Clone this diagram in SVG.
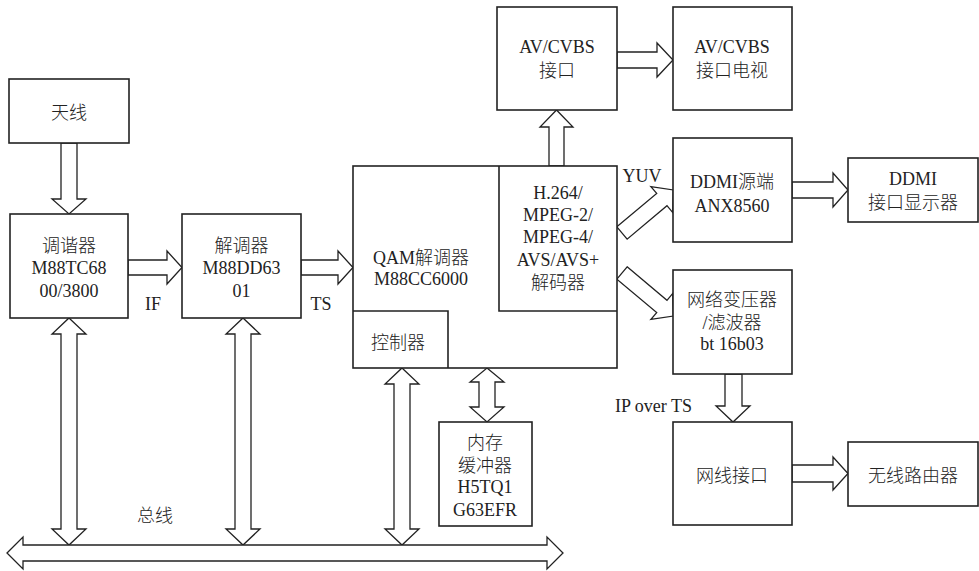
<svg xmlns="http://www.w3.org/2000/svg" width="979" height="571" viewBox="0 0 979 571">
<style>
.box{fill:#fff;stroke:#222;stroke-width:1.6}
.ln{fill:none;stroke:#222;stroke-width:1.6}
.arr{fill:#fff;stroke:#222;stroke-width:1.3;stroke-linejoin:miter}
text{font-family:"Liberation Serif","Noto Sans CJK SC",serif;font-size:18px;font-weight:300;fill:#222;text-anchor:middle}
.lab{text-anchor:start}
</style>
<rect width="979" height="571" fill="#fff"/>
<g id="connectors">
<polygon class="arr" points="61,143 77,143 77,199 86,199 69,214 52,199 61,199"/>
<polygon class="arr" points="128,260 167,260 167,251 182,267.5 167,284 167,275 128,275"/>
<polygon class="arr" points="301,260 338,260 338,251 353,267.5 338,284 338,275 301,275"/>
<polygon class="arr" points="549,166 549,127 540,127 556.5,110 573,127 564,127 564,166"/>
<polygon class="arr" points="617,52 657,52 657,43 673,60 657,77 657,68 617,68"/>
<polygon class="arr" transform="translate(622,233) rotate(-40)" points="0,-8 52,-8 52,-17 67,0 52,17 52,8 0,8"/>
<polygon class="arr" transform="translate(622,273) rotate(40)" points="0,-8 52,-8 52,-17 67,0 52,17 52,8 0,8"/>
<polygon class="arr" points="792,182 833,182 833,173 848,190 833,207 833,198 792,198"/>
<polygon class="arr" points="725,374 742,374 742,406 750,406 733,422 716,406 725,406"/>
<polygon class="arr" points="792,465 833,465 833,457 848,473.5 833,490 833,482 792,482"/>
<polygon class="arr" points="69,318 86,334 77,334 77,529 86,529 69,545 52,529 61,529 61,334 52,334"/>
<polygon class="arr" points="243,318 260,334 251,334 251,529 260,529 243,545 226,529 235,529 235,334 226,334"/>
<polygon class="arr" points="402,368 419,384 410,384 410,529 419,529 402,545 385,529 394,529 394,384 385,384"/>
<polygon class="arr" points="487,368 504,382 495,382 495,407 504,407 487,422 470,407 479,407 479,382 470,382"/>
<polygon class="arr" points="7,553 23,537 23,545 547,545 547,537 563,553 547,569 547,561 23,561 23,569"/>
<text x="155" y="522">总线</text>
<text x="153" y="310">IF</text>
<text x="321" y="310">TS</text>
<text x="642" y="182">YUV</text>
<text class="lab" x="615" y="412">IP over TS</text>
</g>
<g id="antenna">
<rect class="box" x="9" y="79" width="120" height="64"/>
<text x="69" y="119">天线</text>
</g>
<g id="tuner">
<rect class="box" x="10" y="214" width="118" height="104"/>
<text x="69" y="252">调谐器</text>
<text x="69" y="274">M88TC68</text>
<text x="69" y="297">00/3800</text>
</g>
<g id="demod">
<rect class="box" x="182" y="214" width="119" height="104"/>
<text x="241.5" y="252">解调器</text>
<text x="241.5" y="274">M88DD63</text>
<text x="241.5" y="297">01</text>
</g>
<g id="qam">
<rect class="box" x="353" y="166" width="264" height="202"/>
<text x="421" y="264">QAM解调器</text>
<text x="421" y="285">M88CC6000</text>
</g>
<g id="decoder">
<polyline class="ln" points="499,166 499,311 617,311"/>
<text x="558" y="199">H.264/</text>
<text x="558" y="221">MPEG-2/</text>
<text x="558" y="243">MPEG-4/</text>
<text x="558" y="266">AVS/AVS+</text>
<text x="558" y="289">解码器</text>
</g>
<g id="controller">
<polyline class="ln" points="353,311 448,311 448,368"/>
<text x="398" y="349">控制器</text>
</g>
<g id="memory">
<rect class="box" x="439" y="422" width="93" height="104"/>
<text x="485" y="449">内存</text>
<text x="485" y="472">缓冲器</text>
<text x="485" y="493">H5TQ1</text>
<text x="485" y="516">G63EFR</text>
</g>
<g id="av-if">
<rect class="box" x="497" y="7" width="120" height="103"/>
<text x="557" y="53">AV/CVBS</text>
<text x="557" y="77">接口</text>
</g>
<g id="av-tv">
<rect class="box" x="673" y="7" width="119" height="103"/>
<text x="732" y="53">AV/CVBS</text>
<text x="732" y="77">接口电视</text>
</g>
<g id="ddmi-src">
<rect class="box" x="673" y="138" width="119" height="104"/>
<text x="732" y="188">DDMI源端</text>
<text x="732" y="212">ANX8560</text>
</g>
<g id="ddmi-disp">
<rect class="box" x="848" y="158" width="130" height="64"/>
<text x="913" y="185">DDMI</text>
<text x="913" y="209">接口显示器</text>
</g>
<g id="net-xfmr">
<rect class="box" x="673" y="270" width="119" height="104"/>
<text x="732" y="306">网络变压器</text>
<text x="732" y="329">/滤波器</text>
<text x="732" y="350">bt 16b03</text>
</g>
<g id="eth">
<rect class="box" x="673" y="422" width="119" height="103"/>
<text x="732" y="482">网线接口</text>
</g>
<g id="router">
<rect class="box" x="848" y="442" width="130" height="64"/>
<text x="913" y="482">无线路由器</text>
</g>
</svg>
